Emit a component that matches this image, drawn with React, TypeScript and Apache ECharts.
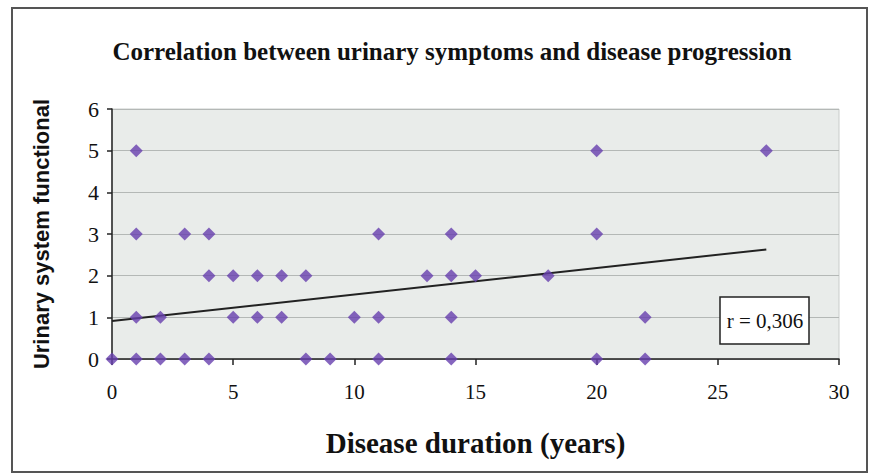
import React, { useEffect, useRef } from "react";
import * as echarts from "echarts";

const titleText = "Correlation between urinary symptoms and disease progression";
const xAxisName = "Disease duration (years)";
const yAxisName = "Urinary system functional";
const rLabel = "r = 0,306";

// Disease duration (years) and urinary system functional score
const durations = [1, 20, 27, 1, 3, 4, 11, 14, 20, 4, 5, 6, 7, 8, 13, 14, 15, 18, 1, 2, 5, 6, 7, 10, 11, 14, 22, 0, 1, 2, 3, 4, 8, 9, 11, 14, 20, 22];
const scores = [5, 5, 5, 3, 3, 3, 3, 3, 3, 2, 2, 2, 2, 2, 2, 2, 2, 2, 1, 1, 1, 1, 1, 1, 1, 1, 1, 0, 0, 0, 0, 0, 0, 0, 0, 0, 0, 0];

// Trend line end points
const trendX = [0, 27];
const trendY = [0.91, 2.63];

const xMin = 0, xMax = 30, xStep = 5;
const yMin = 0, yMax = 6, yStep = 1;

export default function App() {
  const ref = useRef<HTMLDivElement>(null);
  useEffect(() => {
    document.body.style.margin = "0";
    if (!ref.current) return;
    const chart = echarts.init(ref.current, null, { renderer: "svg" });
    const serif = "'Liberation Serif', 'Times New Roman', serif";
    chart.setOption({
      animation: false,
      backgroundColor: "#ffffff",
      grid: {
        left: 112,
        right: 31,
        top: 109,
        bottom: 115,
        show: true,
        backgroundColor: "#e9ecea",
        borderColor: "#c9cdcb",
        borderWidth: 1,
      },
      xAxis: {
        type: "value",
        min: xMin,
        max: xMax,
        interval: xStep,
        name: xAxisName,
        nameLocation: "middle",
        nameGap: 69,
        nameTextStyle: { fontFamily: serif, fontWeight: "bold", fontSize: 29, color: "#111" },
        axisLine: { show: true, onZero: false, lineStyle: { color: "#222", width: 1.5 } },
        axisTick: { show: true, length: 6, inside: false, lineStyle: { color: "#222", width: 1.5 } },
        axisLabel: { fontFamily: serif, fontSize: 21, color: "#111", margin: 22 },
        splitLine: { show: false },
      },
      yAxis: {
        type: "value",
        min: yMin,
        max: yMax,
        interval: yStep,
        name: yAxisName,
        nameLocation: "middle",
        nameRotate: 90,
        nameGap: 60,
        nameTextStyle: { fontFamily: "'Liberation Sans', Arial, sans-serif", fontWeight: "bold", fontSize: 22, color: "#111" },
        axisLine: { show: true, lineStyle: { color: "#222", width: 1.5 } },
        axisTick: { show: true, length: 5, inside: false, lineStyle: { color: "#222", width: 1.5 } },
        axisLabel: { fontFamily: serif, fontSize: 22, color: "#111", margin: 13 },
        splitLine: { show: true, lineStyle: { color: "#b4b8b6", width: 1 } },
      },
      series: [
        {
          type: "scatter",
          data: durations.map((d, i) => [d, scores[i]]),
          symbol: "diamond",
          symbolSize: 13,
          itemStyle: { color: "#663fae" },
          z: 3,
        },
        {
          type: "line",
          data: trendX.map((x, i) => [x, trendY[i]]),
          symbol: "none",
          lineStyle: { color: "#222", width: 2 },
          z: 2,
        },
      ],
      graphic: [
        {
          type: "rect",
          shape: { x: 12, y: 8, width: 855, height: 464 },
          style: { fill: "none", stroke: "#555", lineWidth: 2 },
          silent: true,
        },
        {
          type: "text",
          x: 452,
          y: 51,
          style: {
            text: titleText,
            fontFamily: serif,
            fontWeight: "bold",
            fontSize: 25,
            fill: "#111",
            textAlign: "center",
            textVerticalAlign: "middle",
          },
        },
        {
          type: "rect",
          shape: { x: 720, y: 297, width: 89, height: 47 },
          style: { fill: "#ffffff", stroke: "#222", lineWidth: 1.5 },
          z: 10,
        },
        {
          type: "text",
          x: 765,
          y: 321,
          z: 11,
          style: {
            text: rLabel,
            fontFamily: serif,
            fontSize: 21,
            fill: "#111",
            textAlign: "center",
            textVerticalAlign: "middle",
          },
        },
      ],
    });
    return () => chart.dispose();
  }, []);
  return <div ref={ref} style={{ width: 870, height: 474 }} />;
}
